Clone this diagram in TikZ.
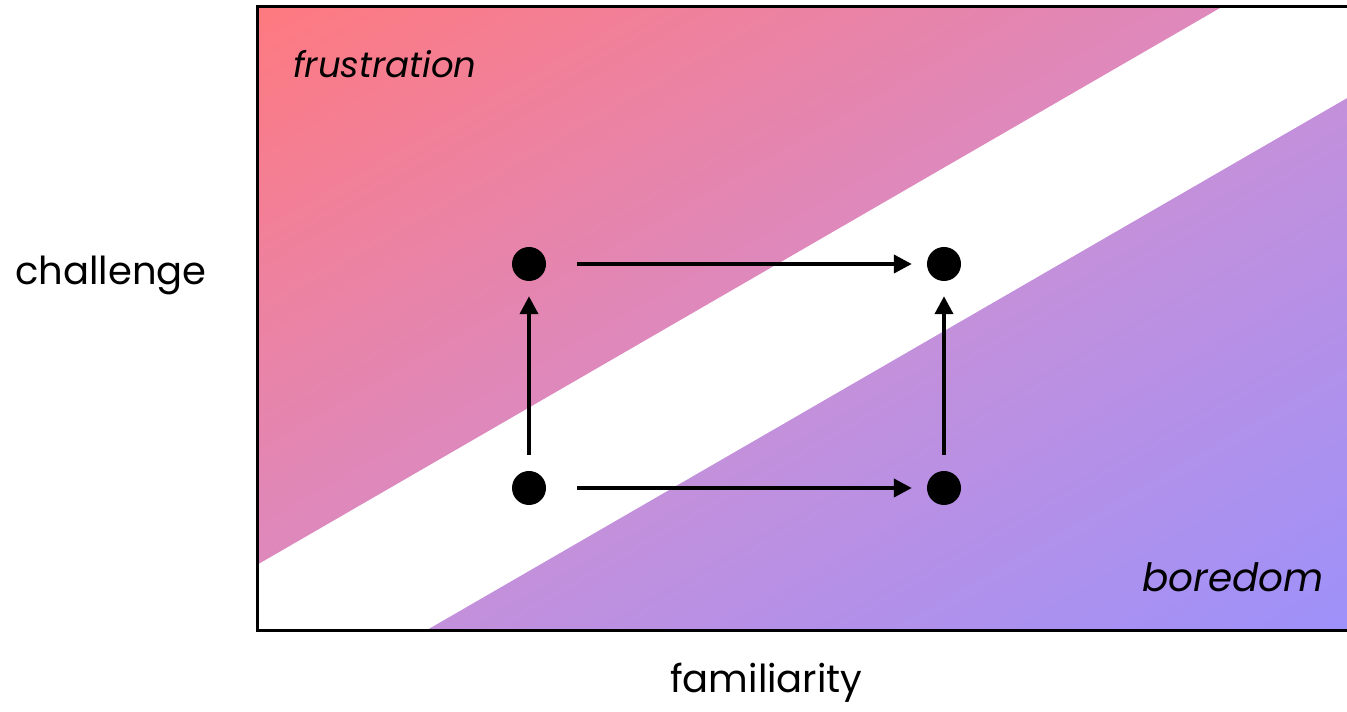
\documentclass[tikz,border=0pt]{standalone}
\usepackage{fontspec}
\setmainfont{Poppins}
\usetikzlibrary{arrows.meta}
\definecolor{cTL}{RGB}{255,122,128}
\definecolor{cBR}{RGB}{158,146,250}
\tikzset{
  x=1pt, y=1pt,
  dot/.style={circle, fill=black, minimum size=34pt, inner sep=0pt},
  flow/.style={line width=4pt, -{Triangle[length=18pt,width=18pt]}},
  lbl/.style={anchor=base west, inner sep=0pt},
  frame/.style={line width=3pt, line cap=rect}
}
% piecewise colour: \segcol{t}{t0}{t1}{r0}{g0}{b0}{r1}{g1}{b1}
\newcommand\segcol[9]{%
  \pgfmathsetmacro{\ff}{(#1-#2)/(#3-#2)}%
  \pgfmathtruncatemacro{\rr}{#4+\ff*(#7-#4)}%
  \pgfmathtruncatemacro{\gg}{#5+\ff*(#8-#5)}%
  \pgfmathtruncatemacro{\bb}{#6+\ff*(#9-#6)}%
  \definecolor{stripcol}{RGB}{\rr,\gg,\bb}%
}
\begin{document}
\begin{tikzpicture}
\useasboundingbox (0,0) rectangle (1347,712);
% gradient area (diagonal, top-left to bottom-right)
\begin{scope}
  \clip (257,81) rectangle (1347,705);
  \begin{scope}[shift={(802,393)}, rotate=-60.2]
    \fill[cTL] (-700,-900) rectangle (-540,900);
    \fill[cBR] (540,-900) rectangle (700,900);
    \foreach \i in {0,...,199}{
      \pgfmathsetmacro{\xa}{-541.5+\i*5.415}
      \pgfmathsetmacro{\xb}{\xa+6.2}
      \pgfmathsetmacro{\tt}{(\i+0.5)/200}
      \ifdim\tt pt<0.445pt
        \segcol{\tt}{0}{0.445}{255}{122}{128}{222}{137}{189}
      \else\ifdim\tt pt<0.575pt
        \segcol{\tt}{0.445}{0.575}{222}{137}{189}{196}{144}{220}
      \else
        \segcol{\tt}{0.575}{1}{196}{144}{220}{158}{146}{250}
      \fi\fi
      \fill[stripcol] (\xa,-900) rectangle (\xb,900);
    }
  \end{scope}
  \fill[white] (257,147) -- (1222,705) -- (1347,705) -- (1347,614) -- (425,81) -- (257,81) -- cycle;
\end{scope}
\draw[frame] (1347,705) -- (257,705) -- (257,81) -- (1347,81);
% dots
\node[dot] (tl) at (529,448) {};
\node[dot] (tr) at (944,448) {};
\node[dot] (bl) at (529,224) {};
\node[dot] (br) at (944,224) {};
% arrows
\draw[flow, shorten <=31pt, shorten >=15pt] (tl) -- (tr);
\draw[flow, shorten <=31pt, shorten >=15pt] (bl) -- (br);
\draw[flow, shorten <=16pt, shorten >=15pt] (bl) -- (tl);
\draw[flow, shorten <=16pt, shorten >=15pt] (br) -- (tr);
% labels
\node[lbl, font=\fontsize{35.5}{40}\selectfont] (frus) at (293,634) {\itshape frustration};
\node[lbl, font=\fontsize{39}{44}\selectfont] (bore) at (1142,120) {\itshape boredom};
\node[lbl, font=\fontsize{38.5}{44}\selectfont] (chal) at (15,427) {challenge};
\node[lbl, font=\fontsize{38.5}{44}\selectfont] (fami) at (670,19) {familiarity};
\end{tikzpicture}
\end{document}
